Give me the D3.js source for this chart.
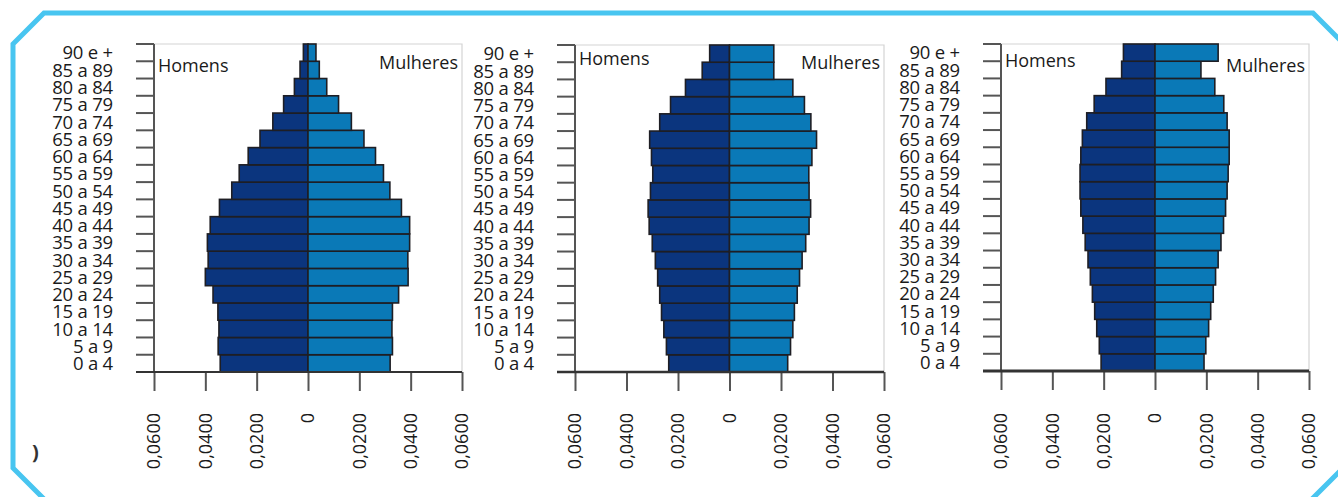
<!DOCTYPE html>
<html><head><meta charset="utf-8">
<script src="https://cdn.jsdelivr.net/npm/d3@7"></script>
<style>
html,body{margin:0;padding:0;background:#fff;}
svg{display:block;font-family:"Open Sans",sans-serif;}
</style></head>
<body><svg id="c" width="1338" height="497"></svg>
<script>
// ---------- data ----------
const ageGroups = ["0 a 4","5 a 9","10 a 14","15 a 19","20 a 24","25 a 29","30 a 34","35 a 39","40 a 44","45 a 49","50 a 54","55 a 59","60 a 64","65 a 69","70 a 74","75 a 79","80 a 84","85 a 89","90 e +"];
const men1   = [0.0342,0.0350,0.0347,0.0351,0.0370,0.0400,0.0389,0.0392,0.0381,0.0345,0.0297,0.0268,0.0233,0.0187,0.0137,0.0095,0.0053,0.0031,0.0018];
const women1 = [0.0320,0.0329,0.0327,0.0329,0.0353,0.0390,0.0389,0.0396,0.0396,0.0364,0.0319,0.0294,0.0263,0.0218,0.0169,0.0119,0.0073,0.0044,0.0031];
const men2   = [0.0236,0.0245,0.0255,0.0264,0.0271,0.0279,0.0288,0.0300,0.0312,0.0316,0.0307,0.0298,0.0303,0.0310,0.0271,0.0229,0.0171,0.0106,0.0077];
const women2 = [0.0226,0.0237,0.0246,0.0252,0.0263,0.0272,0.0282,0.0296,0.0309,0.0315,0.0309,0.0308,0.0320,0.0338,0.0316,0.0291,0.0246,0.0172,0.0172];
const men3   = [0.0210,0.0217,0.0227,0.0235,0.0244,0.0252,0.0261,0.0272,0.0281,0.0289,0.0292,0.0292,0.0289,0.0283,0.0266,0.0237,0.0191,0.0130,0.0123];
const women3 = [0.0191,0.0198,0.0209,0.0217,0.0227,0.0236,0.0246,0.0257,0.0267,0.0275,0.0281,0.0285,0.0289,0.0289,0.0281,0.0268,0.0233,0.0179,0.0246];
const xTicks = [-0.06,-0.04,-0.02,0,0.02,0.04,0.06];
const xTickLabels = ["0,0600","0,0400","0,0200","0","0,0200","0,0400","0,0600"];
const leftLabel = "Homens", rightLabel = "Mulheres";

const menColor = "#0b357e", womenColor = "#0a79b7";

const panels = [
  {men: men1, women: women1, x0: 154, x1: 462, yTop: 44, yBot: 372, hY: 72, mY: 69, axisW: 2},
  {men: men2, women: women2, x0: 575, x1: 884, yTop: 45, yBot: 372, hY: 65, mY: 69, axisW: 2.5},
  {men: men3, women: women3, x0: 1001, x1: 1309, yTop: 44, yBot: 371, hY: 66.5, mY: 71.5, axisW: 3}
];

const svg = d3.select("#c");

// frame
svg.append("polygon")
  .attr("points", [[13,44],[44,13],[1313,13],[1370,70],[1370,441],[1281,530],[75,530],[13,468]].map(p=>p.join(",")).join(" "))
  .attr("fill","none").attr("stroke","#48c5f0").attr("stroke-width",5).attr("stroke-linejoin","miter");

svg.append("text").attr("x",32).attr("y",459).attr("font-size",20).attr("font-weight",700).attr("fill","#333").text(")");

panels.forEach(p => {
  const g = svg.append("g");
  const x = d3.scaleLinear().domain([-0.06,0.06]).range([p.x0,p.x1]);
  const y = d3.scaleBand().domain(ageGroups).range([p.yBot,p.yTop]).padding(0);

  // plot frame (top & right light lines)
  g.append("path").attr("d",`M${p.x0},${p.yTop}H${p.x1}V${p.yBot}`)
    .attr("fill","none").attr("stroke","#d4d4d4").attr("stroke-width",1.2);

  // bars
  g.selectAll("rect.m").data(ageGroups).join("rect")
    .attr("x", (d,i)=>x(-p.men[i])).attr("y", d=>y(d))
    .attr("width",(d,i)=>x(0)-x(-p.men[i])).attr("height", y.bandwidth())
    .attr("fill",menColor).attr("stroke","#1e1e24").attr("stroke-width",1.6);
  g.selectAll("rect.w").data(ageGroups).join("rect")
    .attr("x", x(0)).attr("y", d=>y(d))
    .attr("width",(d,i)=>x(p.women[i])-x(0)).attr("height", y.bandwidth())
    .attr("fill",womenColor).attr("stroke","#1e1e24").attr("stroke-width",1.6);

  // y axis: line, stubs at band boundaries, labels centered
  g.append("line").attr("x1",p.x0).attr("x2",p.x0).attr("y1",p.yTop).attr("y2",p.yBot)
    .attr("stroke","#555").attr("stroke-width",2);
  const bounds = ageGroups.map(d=>y(d));
  g.selectAll("line.yt").data(bounds).join("line")
    .attr("x1",p.x0-18).attr("x2",p.x0).attr("y1",d=>d).attr("y2",d=>d)
    .attr("stroke","#555").attr("stroke-width",2);
  g.selectAll("text.yl").data(ageGroups).join("text")
    .attr("x",p.x0-41).attr("y",d=>y(d)+y.bandwidth()/2).attr("dy","0.37em")
    .attr("text-anchor","end").attr("font-size",18.5).attr("fill","#1a1a1a")
    .attr("letter-spacing","-0.2").text(d=>d);

  // x axis
  const xa = g.append("g").attr("transform",`translate(0,${p.yBot})`)
    .call(d3.axisBottom(x).tickValues(xTicks).tickSize(19).tickFormat(""));
  xa.select(".domain").remove();
  xa.selectAll(".tick line").attr("stroke","#555").attr("stroke-width",2);
  g.append("line").attr("x1",p.x0-18).attr("x2",p.x1).attr("y1",p.yBot).attr("y2",p.yBot)
    .attr("stroke","#333").attr("stroke-width",p.axisW);
  g.selectAll("text.xl").data(xTicks).join("text")
    .attr("transform",d=>`translate(${x(d)},413) rotate(-90)`)
    .attr("dy","0.36em").attr("text-anchor","end").attr("font-size",18).attr("fill","#1a1a1a")
    .text((d,i)=>xTickLabels[i]);

  // side labels
  g.append("text").attr("x",p.x0+4).attr("y",p.hY).attr("font-size",18).attr("fill","#1a1a1a").text(leftLabel);
  g.append("text").attr("x",p.x1-4).attr("y",p.mY).attr("text-anchor","end").attr("font-size",18).attr("fill","#1a1a1a").text(rightLabel);
});
</script></body></html>
